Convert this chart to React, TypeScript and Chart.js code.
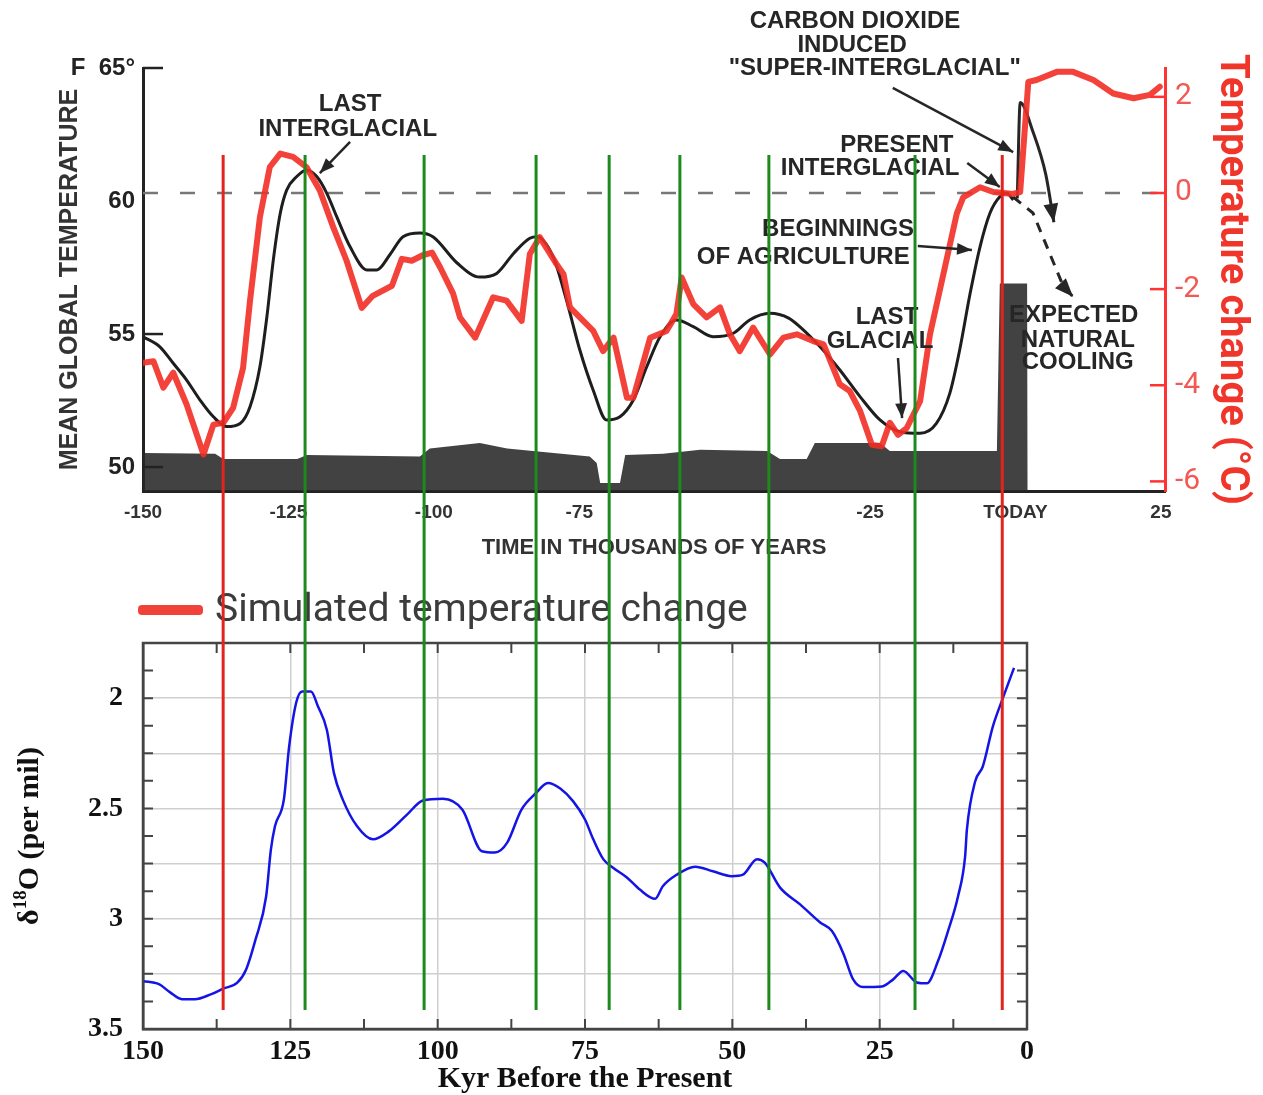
import React, { useEffect, useRef } from 'react';
import { Chart, registerables } from 'chart.js';

Chart.register(...registerables);
Chart.defaults.font.family = '"Liberation Sans", Arial, sans-serif';

// ---------- Top chart: mean global temperature (°F) and simulated change (°C) ----------
const redKyr = [-150, -148.2, -146.5, -144.8, -142.5, -139.6, -137.9, -136.2, -134.5, -132.8, -131.6, -129.9, -128.2, -126.4, -124.2, -121.9, -119.6, -117.3, -115.0, -112.4, -110.5, -107.2, -105.5, -103.8, -102.0, -100.3, -98.9, -96.7, -95.5, -92.9, -89.8, -87.5, -84.9, -83.5, -81.8, -78.9, -77.7, -76.6, -74.3, -72.6, -70.9, -69.1, -66.8, -65.7, -62.8, -60.0, -58.3, -57.4, -55.4, -53.1, -50.8, -49.1, -47.4, -45.1, -42.2, -39.9, -37.6, -34.8, -33.0, -30.2, -28.5, -26.7, -24.7, -23.0, -21.6, -20.2, -18.7, -16.4, -14.7, -12.4, -10.1, -9.0, -6.1, -3.8, -0.4, 0.8, 2.2, 3.6, 7.1, 9.9, 13.4, 16.8, 20.3, 23.1, 24.8];
const redTempC = [-3.53, -3.50, -4.05, -3.74, -4.40, -5.44, -4.82, -4.78, -4.47, -3.64, -2.24, -0.50, 0.54, 0.82, 0.75, 0.54, 0.05, -0.71, -1.41, -2.39, -2.14, -1.93, -1.37, -1.41, -1.30, -1.24, -1.55, -2.09, -2.59, -3.01, -2.17, -2.24, -2.66, -1.27, -0.92, -1.48, -1.69, -2.38, -2.66, -2.87, -3.29, -3.01, -4.26, -4.26, -3.01, -2.87, -2.52, -1.76, -2.31, -2.59, -2.38, -2.94, -3.29, -2.80, -3.36, -3.01, -2.94, -3.08, -3.15, -3.98, -4.12, -4.54, -5.24, -5.27, -4.78, -5.03, -4.89, -4.33, -2.94, -1.69, -0.43, -0.09, 0.12, 0.02, -0.02, 0.02, 2.31, 2.35, 2.52, 2.52, 2.35, 2.07, 1.97, 2.04, 2.21];

const blackKyr = [-150, -147.1, -144.8, -142.5, -140.2, -137.9, -135.6, -133.3, -131.6, -129.9, -128.7, -127.6, -126.4, -125.3, -123.6, -121.9, -120.1, -118.4, -116.7, -114.4, -111.5, -109.8, -107.5, -105.3, -102.4, -100.1, -96.0, -92.1, -89.2, -86.3, -83.5, -82.3, -79.5, -77.2, -74.9, -72.6, -70.3, -68.0, -65.7, -63.4, -61.1, -58.3, -55.4, -52.0, -48.5, -45.7, -42.2, -39.0, -37.1, -33.6, -30.2, -26.7, -23.3, -19.9, -16.4, -13.6, -11.3, -9.6, -7.8, -6.1, -4.4, -2.7, -1.5, -0.4];
const blackTempF = [54.90, 54.52, 53.90, 53.27, 52.52, 51.89, 51.52, 51.64, 52.27, 53.77, 55.65, 57.78, 59.54, 60.41, 60.91, 61.17, 60.91, 60.29, 59.41, 58.28, 57.41, 57.41, 58.0, 58.66, 58.8, 58.65, 57.67, 57.14, 57.28, 58.03, 58.6, 58.66, 57.91, 56.28, 54.40, 52.89, 51.77, 51.89, 52.52, 53.77, 54.90, 55.53, 55.28, 54.9, 55.03, 55.53, 55.78, 55.6, 55.28, 54.52, 53.65, 52.64, 51.77, 51.33, 51.27, 51.64, 52.77, 54.40, 56.53, 58.28, 59.54, 60.16, 60.29, 60.04];

const superKyr = [0.3, 0.8, 3.0, 5.2, 6.6];
const superTempF = [60.1, 63.7, 62.6, 61.0, 59.2];
const coolingKyr = [-0.4, 3.0, 8.2, 9.9];
const coolingTempF = [60.15, 59.55, 56.8, 56.4];

const sedimentKyr = [-150, -137.6, -136.2, -123.5, -121.8, -102.4, -100.7, -92.1, -87.4, -73.2, -72.0, -71.4, -68.0, -67.1, -60.6, -54.2, -42.7, -40.5, -35.9, -34.5, -23.3, -21.6, -3.2, -2.7, 2.0, 2.1];
const sedimentF = [50.53, 50.5, 50.3, 50.3, 50.45, 50.4, 50.7, 50.9, 50.7, 50.4, 50.15, 49.4, 49.4, 50.45, 50.5, 50.65, 50.6, 50.3, 50.3, 50.9, 50.9, 50.6, 50.6, 56.9, 56.9, 49.1];

const topXTicks = [-150, -125, -100, -75, -50, -25, 0, 25];
const topXLabels = ['-150', '-125', '-100', '-75', '', '-25', 'TODAY', '25'];
const leftTicksF = [50, 55, 60, 65];
const rightTicksC = [-6, -4, -2, 0, 2];

const notes = [
  { t: 'LAST', k: -114.4, f: 63.65 },
  { t: 'INTERGLACIAL', k: -114.8, f: 62.71 },
  { t: 'CARBON DIOXIDE', k: -27.6, f: 66.77 },
  { t: 'INDUCED', k: -28.1, f: 65.86 },
  { t: '"SUPER-INTERGLACIAL"', k: -24.2, f: 65.0 },
  { t: 'PRESENT', k: -20.4, f: 62.11 },
  { t: 'INTERGLACIAL', k: -25.0, f: 61.24 },
  { t: 'BEGINNINGS', k: -30.5, f: 58.95 },
  { t: 'OF AGRICULTURE', k: -36.5, f: 57.89 },
  { t: 'LAST', k: -22.1, f: 55.64 },
  { t: 'GLACIAL', k: -23.3, f: 54.74 },
  { t: 'EXPECTED', k: 10.0, f: 55.71 },
  { t: 'NATURAL', k: 10.7, f: 54.77 },
  { t: 'COOLING', k: 10.7, f: 53.95 },
];
const noteArrows = [
  [[-114.4, 62.22], [-119.6, 61.05]],
  [[-21.1, 64.25], [-0.4, 61.84]],
  [[-8.3, 61.43], [-2.7, 60.53]],
  [[-16.8, 58.31], [-7.5, 58.16]],
  [[-20.2, 54.1], [-19.5, 51.84]],
];

// ---------- Bottom chart: benthic δ18O ----------
const isoKyr = [150, 147.3, 145.4, 143.4, 141.2, 138.5, 136.4, 134, 132.5, 130.9, 129.1, 128.3, 127.6, 126.1, 125.2, 124, 123, 121.5, 120.3, 118.8, 117.6, 116.1, 113.7, 111, 108.3, 105.2, 102.5, 99.1, 95.8, 92.5, 90.3, 88.2, 85.8, 83.3, 81.3, 79.2, 77, 75, 73.6, 71.9, 70.3, 67.9, 65.7, 63.1, 61.8, 59.4, 56.3, 53.3, 50.1, 48.2, 45.8, 44.5, 41.9, 38.5, 35.1, 33.1, 31.2, 29.5, 27.8, 24.6, 22.7, 21, 18.7, 17, 15.1, 13.4, 11.7, 10.5, 10.2, 8.8, 7.5, 5.8, 4.1, 2.2];
const isoD18O = [3.283, 3.297, 3.334, 3.365, 3.365, 3.343, 3.317, 3.29, 3.23, 3.094, 2.898, 2.687, 2.58, 2.46, 2.219, 2.02, 1.97, 1.97, 2.038, 2.144, 2.34, 2.46, 2.58, 2.64, 2.604, 2.528, 2.464, 2.456, 2.506, 2.694, 2.70, 2.655, 2.506, 2.43, 2.385, 2.41, 2.468, 2.55, 2.64, 2.73, 2.768, 2.813, 2.868, 2.91, 2.853, 2.80, 2.764, 2.785, 2.807, 2.80, 2.73, 2.746, 2.859, 2.935, 3.017, 3.056, 3.155, 3.275, 3.31, 3.307, 3.275, 3.237, 3.289, 3.293, 3.192, 3.056, 2.898, 2.717, 2.596, 2.378, 2.31, 2.129, 2.0, 1.863];
const bottomXLabelled = [150, 125, 100, 75, 50, 25, 0];
const bottomYLabelled = [2, 2.5, 3, 3.5];

// vertical marker lines (kyr before present)
const redMarkers = [136.4, 4.2];
const greenMarkers = [122.5, 102.3, 83.3, 70.9, 58.9, 43.8, 19.0];

const pts = (xs: number[], ys: number[]) => xs.map((x, i) => ({ x, y: ys[i] }));

function arrowHead(ctx: any, x1: number, y1: number, x2: number, y2: number, size: number) {
  const a = Math.atan2(y2 - y1, x2 - x1);
  ctx.beginPath();
  ctx.moveTo(x2, y2);
  ctx.lineTo(x2 - size * Math.cos(a - 0.38), y2 - size * Math.sin(a - 0.38));
  ctx.lineTo(x2 - size * Math.cos(a + 0.38), y2 - size * Math.sin(a + 0.38));
  ctx.closePath();
  ctx.fill();
}

const topDecor = {
  id: 'topDecor',
  afterDraw(chart: any) {
    const { ctx, chartArea: a, scales } = chart;
    const x = scales.x, yL = scales.yL, yR = scales.yR;
    ctx.save();
    // inward ticks
    ctx.strokeStyle = '#222';
    ctx.lineWidth = 2.5;
    leftTicksF.filter((v) => v !== 60).forEach((v) => {
      const py = yL.getPixelForValue(v);
      ctx.beginPath(); ctx.moveTo(a.left, py); ctx.lineTo(a.left + 20, py); ctx.stroke();
    });
    ctx.strokeStyle = '#f33';
    rightTicksC.forEach((v) => {
      const py = yR.getPixelForValue(v);
      ctx.beginPath(); ctx.moveTo(a.right - 15, py); ctx.lineTo(a.right, py); ctx.stroke();
    });
    // annotation texts
    ctx.fillStyle = '#262626';
    ctx.font = 'bold 24px "Liberation Sans", Arial, sans-serif';
    ctx.textAlign = 'center';
    ctx.textBaseline = 'middle';
    notes.forEach((n) => ctx.fillText(n.t, x.getPixelForValue(n.k), yL.getPixelForValue(n.f)));
    // annotation arrows
    ctx.strokeStyle = '#262626';
    ctx.lineWidth = 2.5;
    noteArrows.forEach((ar) => {
      const p = ar.map(([k, f]) => [x.getPixelForValue(k), yL.getPixelForValue(f)]);
      ctx.beginPath();
      ctx.moveTo(p[0][0], p[0][1]);
      for (let i = 1; i < p.length; i++) ctx.lineTo(p[i][0], p[i][1]);
      ctx.stroke();
      const n = p.length;
      arrowHead(ctx, p[n - 2][0], p[n - 2][1], p[n - 1][0], p[n - 1][1], 16);
    });
    // heads of the future-trend curves
    const headFor = (ks: number[], fs: number[]) => {
      const n = ks.length;
      arrowHead(ctx, x.getPixelForValue(ks[n - 2]), yL.getPixelForValue(fs[n - 2]),
        x.getPixelForValue(ks[n - 1]) , yL.getPixelForValue(fs[n - 1]), 20);
    };
    headFor(superKyr, superTempF);
    headFor(coolingKyr, coolingTempF);
    // legend for the simulated series
    ctx.fillStyle = 'rgba(240,50,40,0.92)';
    ctx.beginPath();
    ctx.roundRect(138, 605, 65, 10, 4);
    ctx.fill();
    ctx.fillStyle = '#3c3c3c';
    ctx.font = '39px Roboto, "Liberation Sans", sans-serif';
    ctx.textAlign = 'left';
    ctx.fillText('Simulated temperature change', 215, 611);
    ctx.restore();
  },
};

const botDecor = {
  id: 'botDecor',
  afterDraw(chart: any) {
    const { ctx, chartArea: a, scales } = chart;
    const x = scales.x, y = scales.y;
    ctx.save();
    ctx.strokeStyle = '#444';
    ctx.lineWidth = 2.5;
    ctx.strokeRect(a.left, a.top, a.right - a.left, a.bottom - a.top);
    ctx.lineWidth = 2;
    y.ticks.forEach((t: any) => {
      const py = y.getPixelForValue(t.value);
      if (py <= a.top + 1 || py >= a.bottom - 1) return;
      ctx.beginPath();
      ctx.moveTo(a.left, py); ctx.lineTo(a.left + 10, py);
      ctx.moveTo(a.right - 10, py); ctx.lineTo(a.right, py);
      ctx.stroke();
    });
    x.ticks.forEach((t: any) => {
      const px = x.getPixelForValue(t.value);
      if (px <= a.left + 1 || px >= a.right - 1) return;
      ctx.beginPath();
      ctx.moveTo(px, a.bottom); ctx.lineTo(px, a.bottom - 10);
      ctx.moveTo(px, a.top); ctx.lineTo(px, a.top + 10);
      ctx.stroke();
    });
    // y-axis title with superscript
    const big = 'bold 30px "Liberation Serif", "Times New Roman", serif';
    const small = 'bold 19px "Liberation Serif", "Times New Roman", serif';
    ctx.translate(28, (a.top + a.bottom) / 2);
    ctx.rotate(-Math.PI / 2);
    ctx.fillStyle = '#111';
    ctx.textAlign = 'left';
    ctx.textBaseline = 'alphabetic';
    ctx.font = big;
    const w1 = ctx.measureText('δ').width;
    const w3 = ctx.measureText('O (per mil)').width;
    ctx.font = small;
    const w2 = ctx.measureText('18').width;
    let sx = -(w1 + w2 + w3) / 2;
    ctx.font = big; ctx.fillText('δ', sx, 10); sx += w1;
    ctx.font = small; ctx.fillText('18', sx, -2); sx += w2;
    ctx.font = big; ctx.fillText('O (per mil)', sx, 10);
    ctx.setTransform(1, 0, 0, 1, 0, 0);
    // marker lines spanning both panels
    const lineTop = 155, lineBottom = 1010;
    ctx.lineWidth = 3;
    const drawMarker = (v: number, color: string) => {
      const px = x.getPixelForValue(v);
      ctx.strokeStyle = color;
      ctx.beginPath(); ctx.moveTo(px, lineTop); ctx.lineTo(px, lineBottom); ctx.stroke();
    };
    greenMarkers.forEach((v) => drawMarker(v, '#1c8a1c'));
    redMarkers.forEach((v) => drawMarker(v, '#e3231d'));
    ctx.restore();
  },
};

export default function App() {
  const topRef = useRef<HTMLCanvasElement>(null);
  const botRef = useRef<HTMLCanvasElement>(null);

  useEffect(() => {
    const top = new Chart(topRef.current as HTMLCanvasElement, {
      type: 'line',
      data: {
        datasets: [
          {
            label: 'Simulated temperature change',
            data: pts(redKyr, redTempC),
            yAxisID: 'yR',
            borderColor: 'rgba(242,45,35,0.9)',
            borderWidth: 6,
            borderJoinStyle: 'round',
            borderCapStyle: 'round',
            pointRadius: 0,
            tension: 0,
          },
          {
            label: 'Mean global temperature',
            data: pts(blackKyr, blackTempF),
            yAxisID: 'yL',
            borderColor: '#1e1e1e',
            borderWidth: 3,
            pointRadius: 0,
            cubicInterpolationMode: 'monotone',
          },
          {
            label: 'CO2 induced super-interglacial',
            data: pts(superKyr, superTempF),
            yAxisID: 'yL',
            borderColor: '#262626',
            borderWidth: 3,
            pointRadius: 0,
            cubicInterpolationMode: 'monotone',
          },
          {
            label: 'Expected natural cooling',
            data: pts(coolingKyr, coolingTempF),
            yAxisID: 'yL',
            borderColor: '#262626',
            borderWidth: 3,
            borderDash: [10, 8],
            pointRadius: 0,
            tension: 0,
          },
          {
            label: 'zero line',
            data: [{ x: -150, y: 0 }, { x: 25, y: 0 }],
            yAxisID: 'yR',
            borderColor: '#777',
            borderWidth: 2.5,
            borderDash: [15, 22],
            pointRadius: 0,
          },
          {
            label: 'sediment',
            data: pts(sedimentKyr, sedimentF),
            yAxisID: 'yL',
            borderWidth: 0,
            backgroundColor: 'rgba(40,40,40,0.88)',
            fill: 'start',
            pointRadius: 0,
            tension: 0,
          },
        ],
      },
      options: {
        responsive: false,
        animation: false,
        devicePixelRatio: 1,
        events: [],
        layout: { padding: { top: 68, left: 0, right: 0, bottom: 0 } },
        plugins: { legend: { display: false }, tooltip: { enabled: false } },
        scales: {
          x: {
            type: 'linear',
            position: 'bottom',
            min: -150,
            max: 25.7,
            afterBuildTicks: (s: any) => { s.ticks = topXTicks.map((v) => ({ value: v })); },
            afterFit: (s: any) => { s.height = 159; },
            grid: { display: true, drawOnChartArea: false, drawTicks: false },
            border: { display: true, color: '#222', width: 3 },
            ticks: {
              autoSkip: false,
              maxRotation: 0,
              padding: 10,
              color: '#333',
              font: { size: 19, weight: 'bold' },
              callback: (v: any) => { const i = topXTicks.indexOf(v); return i >= 0 ? topXLabels[i] : ''; },
            },
            title: {
              display: true,
              text: 'TIME IN THOUSANDS OF YEARS',
              color: '#333',
              font: { size: 22, weight: 'bold' },
              padding: { top: 0, bottom: 89 },
            },
          },
          yL: {
            type: 'linear',
            position: 'left',
            min: 49.1,
            max: 65,
            afterBuildTicks: (s: any) => { s.ticks = leftTicksF.map((v) => ({ value: v })); },
            afterFit: (s: any) => { s.width = 143; },
            grid: { display: true, drawOnChartArea: false, drawTicks: false },
            border: { display: true, color: '#222', width: 3 },
            ticks: {
              padding: 8,
              color: '#222',
              font: { size: 24, weight: 'bold' },
              callback: (v: any) => (v === 65 ? 'F  65°' : String(v)),
            },
            title: {
              display: true,
              text: 'MEAN GLOBAL TEMPERATURE',
              color: '#333',
              font: { size: 25, weight: 'bold' },
              padding: { top: 55, bottom: 0 },
            },
          },
          yR: {
            type: 'linear',
            position: 'right',
            min: -6.2,
            max: 2.6,
            afterBuildTicks: (s: any) => { s.ticks = rightTicksC.map((v) => ({ value: v })); },
            afterFit: (s: any) => { s.width = 98; },
            grid: { display: true, drawOnChartArea: false, drawTicks: false },
            border: { display: true, color: '#f33', width: 3 },
            ticks: {
              padding: 10,
              color: 'rgba(240,60,55,0.85)',
              font: { family: 'Roboto, sans-serif', size: 30 },
              callback: (v: any) => String(v),
            },
            title: {
              display: true,
              text: 'Temperature change (°C)',
              color: '#f0352a',
              font: { family: 'Roboto, sans-serif', size: 40, weight: 'bold' },
              padding: { top: 8, bottom: 0 },
            },
          },
        },
      } as any,
      plugins: [topDecor],
    } as any);

    const serif = '"Liberation Serif", "Times New Roman", serif';
    const bot = new Chart(botRef.current as HTMLCanvasElement, {
      type: 'line',
      data: {
        datasets: [
          {
            label: 'δ18O',
            data: pts(isoKyr, isoD18O),
            borderColor: '#1414e6',
            borderWidth: 2.5,
            pointRadius: 0,
            cubicInterpolationMode: 'monotone',
          },
        ],
      },
      options: {
        responsive: false,
        animation: false,
        devicePixelRatio: 1,
        events: [],
        layout: { padding: { top: 643, left: 0, right: 236, bottom: 0 } },
        plugins: { legend: { display: false }, tooltip: { enabled: false } },
        scales: {
          x: {
            type: 'linear',
            position: 'bottom',
            reverse: true,
            min: 0,
            max: 150,
            afterBuildTicks: (s: any) => {
              const t = [];
              for (let v = 0; v <= 150; v += 12.5) t.push({ value: v });
              s.ticks = t;
            },
            afterFit: (s: any) => { s.height = 66; },
            grid: {
              drawTicks: false,
              lineWidth: 1.5,
              color: (c: any) => {
                const v = c.tick ? c.tick.value : -1;
                return v > 0 && v < 150 && v % 25 === 0 ? '#cfcfcf' : 'rgba(0,0,0,0)';
              },
            },
            border: { display: true, color: '#444', width: 2.5 },
            ticks: {
              autoSkip: false,
              maxRotation: 0,
              padding: 6,
              color: '#111',
              font: { family: serif, size: 28, weight: 'bold' },
              callback: (v: any) => (bottomXLabelled.includes(v) ? String(v) : ''),
            },
            title: {
              display: true,
              text: 'Kyr Before the Present',
              color: '#111',
              font: { family: serif, size: 30, weight: 'bold', lineHeight: 1 },
              padding: { top: 0, bottom: 1 },
            },
          },
          y: {
            type: 'linear',
            position: 'left',
            reverse: true,
            min: 1.75,
            max: 3.5,
            afterBuildTicks: (s: any) => {
              const t = [];
              for (let v = 1.75; v <= 3.5; v += 0.125) t.push({ value: v });
              s.ticks = t;
            },
            afterFit: (s: any) => { s.width = 143; },
            grid: {
              drawTicks: false,
              lineWidth: 1.5,
              color: (c: any) => {
                const v = c.tick ? c.tick.value : 0;
                return v > 1.76 && v < 3.49 && Math.abs(v * 4 - Math.round(v * 4)) < 1e-6 ? '#cfcfcf' : 'rgba(0,0,0,0)';
              },
            },
            border: { display: true, color: '#444', width: 2.5 },
            ticks: {
              autoSkip: false,
              padding: 20,
              color: '#111',
              font: { family: serif, size: 28, weight: 'bold' },
              callback: (v: any) => (bottomYLabelled.includes(v) ? String(v) : ''),
            },
          },
        },
      } as any,
      plugins: [botDecor],
    } as any);

    return () => {
      top.destroy();
      bot.destroy();
    };
  }, []);

  return (
    <div style={{ position: 'absolute', left: 0, top: 0, width: 1263, height: 1095, background: '#fff', overflow: 'hidden' }}>
      <canvas ref={topRef} width={1263} height={650} style={{ position: 'absolute', left: 0, top: 0, width: 1263, height: 650 }} />
      <canvas ref={botRef} width={1263} height={1095} style={{ position: 'absolute', left: 0, top: 0, width: 1263, height: 1095 }} />
    </div>
  );
}
